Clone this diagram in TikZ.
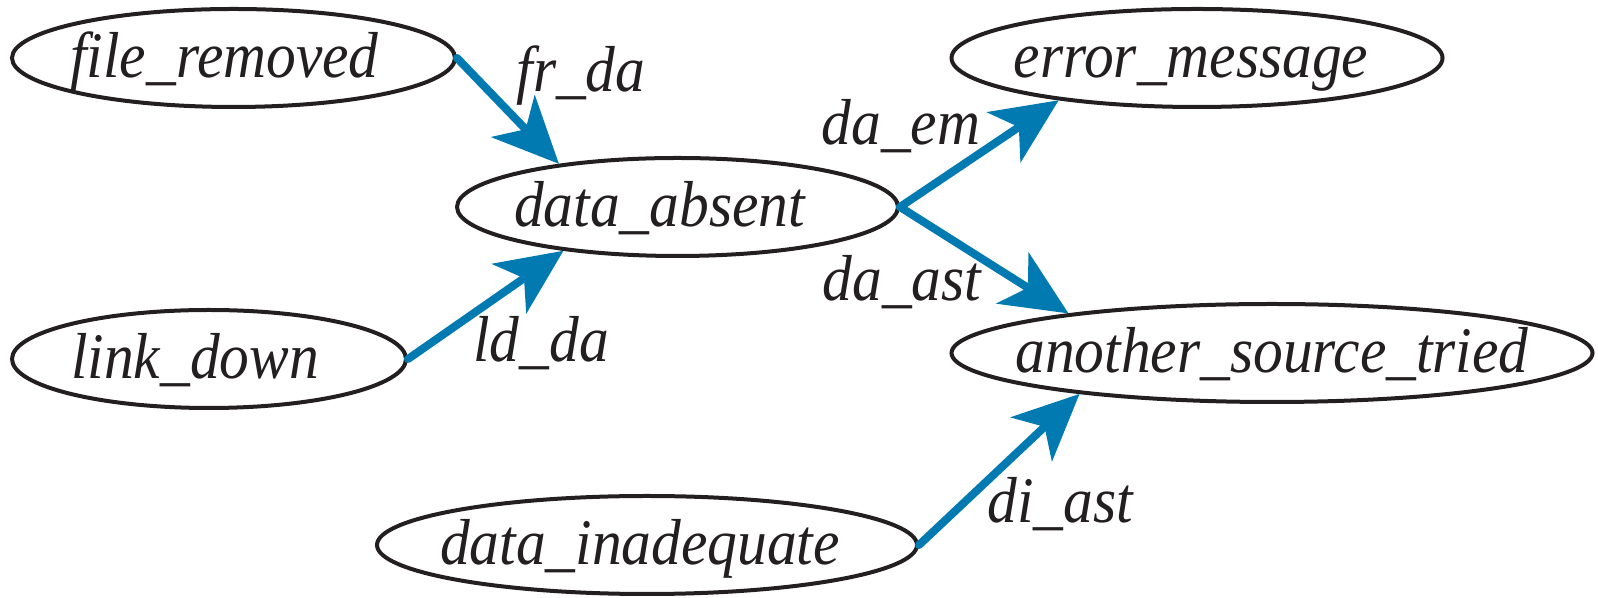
\documentclass[tikz,border=0pt]{standalone}
\usepackage{fontspec}
\setmainfont{Liberation Serif}[FakeStretch=0.915]
\usepackage{xcolor}
\usetikzlibrary{arrows.meta,shapes.geometric}

\definecolor{edgeblue}{RGB}{0,122,176}
\definecolor{inkgray}{RGB}{35,31,32}

\begin{document}
\begin{tikzpicture}[
    x=0.5pt, y=0.5pt,
    state/.style={draw=inkgray, ellipse, line width=2pt, inner sep=0pt, minimum height=49pt,
      text=inkgray, font=\fontsize{32.5}{36}\selectfont\itshape, text height=26pt, text depth=6pt},
    arrow/.style={draw=edgeblue, line width=4pt, line cap=round,
      -{Stealth[length=33pt, width=30pt, inset=9pt]}},
    lbl/.style={anchor=base, inner sep=0pt, text=inkgray, font=\fontsize{32.5}{36}\selectfont\itshape}
  ]
    \useasboundingbox (0,0) rectangle (1598,598);

    % states (the kern pulls the name a little left of the centre)
    \node[state, minimum width=221.5pt] (fr) at (233.5,540) {\makebox[0pt]{\kern-9pt file\_removed}};
    \node[state, minimum width=220.5pt] (da) at (677.5,391) {\makebox[0pt]{\kern-18pt data\_absent}};
    \node[state, minimum width=197pt] (ld) at (209,239) {\makebox[0pt]{\kern-14pt link\_down}};
    \node[state, minimum width=245.5pt] (em) at (1197,540) {\makebox[0pt]{\kern-6pt error\_message}};
    \node[state, minimum width=320.5pt] (ast) at (1272,245) {\makebox[0pt]{another\_source\_tried}};
    \node[state, minimum width=270pt] (di) at (647,53) {\makebox[0pt]{\kern-7pt data\_inadequate}};

    % transitions
    \draw[arrow] (fr.east) -- (da.160);
    \draw[arrow] (ld.east) -- (da.201);
    \draw[arrow] (da.east) -- (em.197);
    \draw[arrow] (da.east) -- (ast.169);
    \draw[arrow] (di.east) -- (ast.192);

    % transition names
    \node[lbl] (frda) at (581,506) {fr\_da};
    \node[lbl] (ldda) at (541,236) {ld\_da};
    \node[lbl] (daem) at (901,453) {da\_em};
    \node[lbl] (daast) at (902,297) {da\_ast};
    \node[lbl] (diast) at (1060,75) {di\_ast};
  \end{tikzpicture}
\end{document}
